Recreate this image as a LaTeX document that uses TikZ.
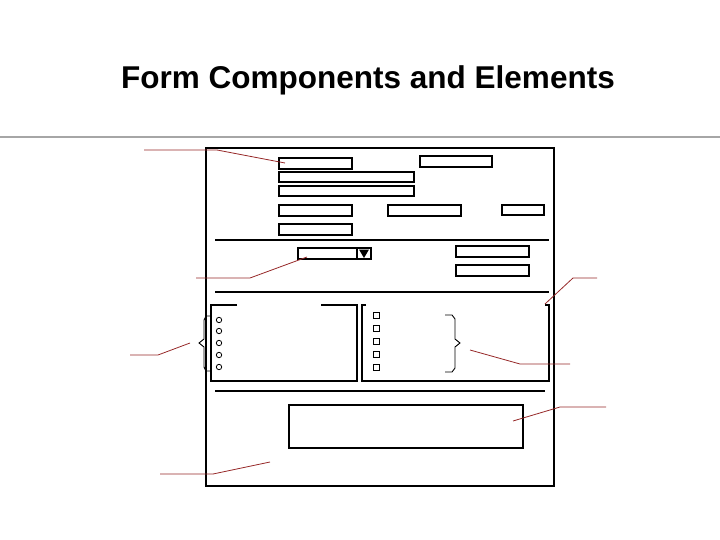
\documentclass[tikz,border=0pt]{standalone}
\usepackage{fontspec}
\setmainfont{Liberation Sans}
\begin{document}
\begin{tikzpicture}[x=1pt,y=-1pt,
  fld/.style={draw=black,line width=1.1pt},
  ln/.style={draw=black,line width=1.1pt},
  call/.style={draw={rgb,255:red,150;green,40;blue,40},line width=0.8pt}]
\useasboundingbox (0,0) rectangle (720,540);
\node[font=\bfseries\fontsize{31.5}{36}\selectfont] (title) at (368,80) {Form Components and Elements};
\draw[draw=gray!70,line width=1.5pt] (0,137) -- (720,137);
\draw[ln] (206,148) rectangle (554,486);
\draw[fld] (279,158) rectangle (352,169);
\draw[fld] (420,156) rectangle (492,167);
\draw[fld] (279,172) rectangle (414,182);
\draw[fld] (279,186) rectangle (414,196);
\draw[fld] (279,205) rectangle (352,216);
\draw[fld] (388,205) rectangle (461,216);
\draw[fld] (502,205) rectangle (544,215);
\draw[fld] (279,224) rectangle (352,235);
\draw[ln] (215,240) -- (549,240);
\draw[fld] (298,248) rectangle (371,259);
\draw[fld] (357,248) -- (357,259);
\fill (359,249.5) -- (369,249.5) -- (364,258) -- cycle;
\draw[fld] (456,246) rectangle (529,257);
\draw[fld] (456,265) rectangle (529,276);
\draw[ln] (215,292) -- (549,292);
\draw[ln] (237,305) -- (211,305) -- (211,381) -- (357,381) -- (357,305) -- (321,305);
\draw[ln] (366,305) -- (362,305) -- (362,381) -- (549,381) -- (549,305) -- (545,305);
\foreach \y in {320,331,343,355,367} \draw[line width=0.8pt] (219,\y) circle (2.7);
\foreach \y in {312,325,338,351,364} \draw[line width=0.9pt] (373,\y) rectangle (379,\y+6);
\draw[line width=0.9pt] (211,316) -- (206,316) -- (204,320) -- (204,339) -- (199,343) -- (204,347) -- (204,367) -- (206,371) -- (211,371);
\draw[line width=0.9pt] (445,315) -- (452,315) -- (455,319) -- (455,339) -- (460,343) -- (455,347) -- (455,368) -- (452,372) -- (445,372);
\draw[ln] (215,391) -- (545,391);
\draw[fld] (289,405) rectangle (523,448);
\draw[call] (144,150) -- (217,150) -- (285,163);
\draw[call] (196,278) -- (250,278) -- (307,257);
\draw[call] (130,355) -- (158,355) -- (190,343);
\draw[call] (597,278) -- (573,278) -- (545,304);
\draw[call] (570,364) -- (520,364) -- (470,350);
\draw[call] (606,407) -- (560,407) -- (513,421);
\draw[call] (160,474) -- (213,474) -- (270,462);
\end{tikzpicture}
\end{document}
